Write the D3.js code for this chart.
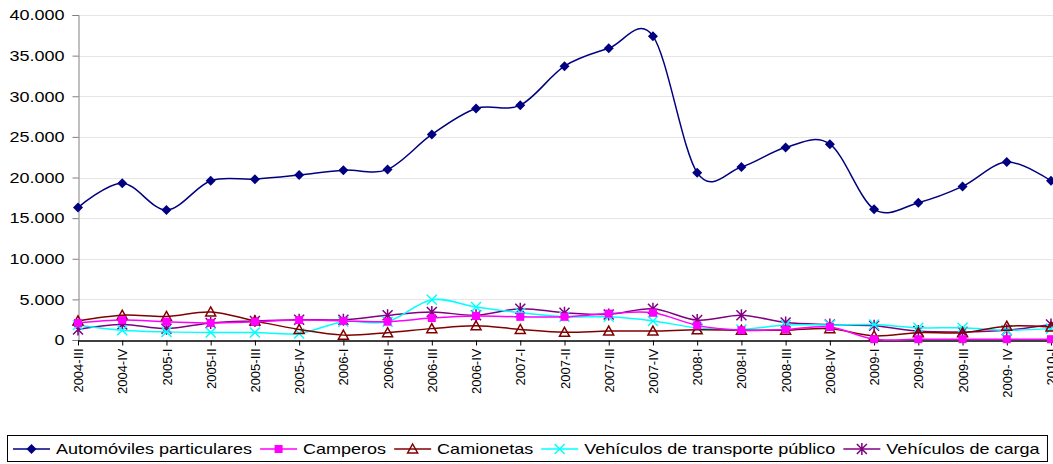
<!DOCTYPE html>
<html>
<head>
<meta charset="utf-8">
<script src="https://cdn.jsdelivr.net/npm/d3@7"></script>
<style>
  body { margin: 0; background: #fff; }
  svg { display: block; font-family: "Liberation Sans", Arial, sans-serif; }
</style>
</head>
<body>
<svg id="chart" width="1053" height="464"></svg>
<script>
// quarters on the x axis
var categories = ["2004-III", "2004-IV", "2005-I", "2005-II", "2005-III", "2005-IV",
  "2006-I", "2006-II", "2006-III", "2006-IV", "2007-I", "2007-II", "2007-III", "2007-IV",
  "2008-I", "2008-II", "2008-III", "2008-IV", "2009-I", "2009-II", "2009-III", "2009- IV", "2010-I"];

// series values
var automoviles = [16300, 19300, 16000, 19600, 19800, 20300, 20900, 21000, 25300, 28500, 28900,
  33700, 35900, 37400, 20600, 21300, 23700, 24100, 16100, 16900, 18900, 21900, 19600];
var camperos = [2100, 2450, 2250, 2100, 2250, 2450, 2350, 2250, 2700, 2950, 2850,
  2850, 3250, 3350, 1800, 1200, 1300, 1600, 100, 100, 100, 100, 100];
var camionetas = [2350, 3050, 2900, 3450, 2350, 1300, 600, 900, 1400, 1750, 1300,
  950, 1100, 1100, 1250, 1200, 1200, 1400, 500, 900, 900, 1700, 1600];
var transporte = [1850, 1200, 1000, 930, 930, 800, 2250, 2250, 4950, 4050, 3350,
  2850, 2850, 2350, 1500, 1300, 1850, 1850, 1900, 1500, 1500, 1200, 1400];
var carga = [1300, 1900, 1400, 2100, 2350, 2500, 2500, 3050, 3450, 3050, 3850,
  3350, 3150, 3850, 2450, 3050, 2150, 1900, 1750, 1100, 1000, 1200, 1900];

var yTicks = [0, 5000, 10000, 15000, 20000, 25000, 30000, 35000, 40000];

var seriesNames = ["Automóviles particulares", "Camperos", "Camionetas",
  "Vehículos de transporte público", "Vehículos de carga"];

var series = [
  {name: seriesNames[0], values: automoviles, color: "#000080", marker: "diamond"},
  {name: seriesNames[1], values: camperos, color: "#FF00FF", marker: "square"},
  {name: seriesNames[2], values: camionetas, color: "#800000", marker: "triangle"},
  {name: seriesNames[3], values: transporte, color: "#00FFFF", marker: "cross"},
  {name: seriesNames[4], values: carga, color: "#800080", marker: "star"}
];

var svg = d3.select("#chart");

var x0 = 78;   // y axis position
var x1 = 1051; // last category
var yTop = 15;
var yBottom = 340;
var stretch = 1.2; // the original text is drawn wider than plain Arial

var locale = d3.formatLocale({decimal: ",", thousands: ".", grouping: [3], currency: ["$", ""]});
var fmt = locale.format(",d");

var x = d3.scalePoint().domain(categories).range([x0, x1]);
var y = d3.scaleLinear().domain([0, 40000]).range([yBottom, yTop]);

function widen(sel) {
  sel.each(function() {
    var w = this.getComputedTextLength();
    d3.select(this)
      .attr("textLength", w * stretch)
      .attr("lengthAdjust", "spacingAndGlyphs");
  });
}

// gridlines
svg.append("g")
  .selectAll("line")
  .data(yTicks.slice(1))
  .enter()
  .append("line")
  .attr("x1", x0)
  .attr("x2", 1053)
  .attr("y1", function(d) { return Math.round(y(d)) + 0.5; })
  .attr("y2", function(d) { return Math.round(y(d)) + 0.5; })
  .attr("stroke", "#e6e6e6")
  .attr("stroke-width", 1);

// y axis
var yAxis = svg.append("g")
  .attr("transform", "translate(" + (x0 + 0.5) + ",0)")
  .call(d3.axisLeft(y).tickValues(yTicks).tickFormat(fmt).tickSize(6).tickPadding(8));
yAxis.select(".domain").attr("stroke", "#808080");
yAxis.selectAll(".tick line").attr("stroke", "#808080");
yAxis.selectAll("text")
  .attr("font-size", 15)
  .attr("fill", "#000")
  .attr("font-family", "Liberation Sans, Arial, sans-serif")
  .call(widen);

// x axis
var xAxis = svg.append("g")
  .attr("transform", "translate(0," + (yBottom + 0.5) + ")")
  .call(d3.axisBottom(x).tickSize(5).tickSizeOuter(0));
xAxis.select(".domain").attr("stroke", "#000").attr("stroke-width", 1.5);
xAxis.selectAll(".tick line").attr("stroke", "#000");
xAxis.selectAll("text")
  .attr("font-size", 13)
  .attr("fill", "#000")
  .attr("font-family", "Liberation Sans, Arial, sans-serif")
  .attr("transform", "rotate(-90)")
  .attr("text-anchor", "end")
  .attr("x", -8)
  .attr("y", 0)
  .attr("dy", "0.35em");

var line = d3.line()
  .x(function(d, i) { return x(categories[i]); })
  .y(function(d) { return y(d); })
  .curve(d3.curveCardinal.tension(0));

// draw a marker at (cx, cy)
function drawMarker(g, type, cx, cy, color) {
  if (type == "diamond") {
    g.append("path")
      .attr("d", "M" + cx + "," + (cy - 5) + "L" + (cx + 5) + "," + cy + "L" + cx + "," + (cy + 5) + "L" + (cx - 5) + "," + cy + "Z")
      .attr("fill", color);
  } else if (type == "square") {
    g.append("rect")
      .attr("x", cx - 4).attr("y", cy - 4)
      .attr("width", 8).attr("height", 8)
      .attr("fill", color);
  } else if (type == "triangle") {
    g.append("path")
      .attr("d", "M" + cx + "," + (cy - 5) + "L" + (cx + 5) + "," + (cy + 4) + "L" + (cx - 5) + "," + (cy + 4) + "Z")
      .attr("fill", "none")
      .attr("stroke", color)
      .attr("stroke-width", 1.5);
  } else if (type == "cross") {
    g.append("path")
      .attr("d", "M" + (cx - 5) + "," + (cy - 5) + "L" + (cx + 5) + "," + (cy + 5) + "M" + (cx + 5) + "," + (cy - 5) + "L" + (cx - 5) + "," + (cy + 5))
      .attr("stroke", color)
      .attr("stroke-width", 1.5);
  } else if (type == "star") {
    g.append("path")
      .attr("d", "M" + (cx - 5) + "," + (cy - 5) + "L" + (cx + 5) + "," + (cy + 5) + "M" + (cx + 5) + "," + (cy - 5) + "L" + (cx - 5) + "," + (cy + 5) + "M" + cx + "," + (cy - 6) + "L" + cx + "," + (cy + 6))
      .attr("stroke", color)
      .attr("stroke-width", 1.5);
  }
}

// lines and markers, back series first so the big one stays on top
var plot = svg.append("g");
series.slice().reverse().forEach(function(s) {
  var g = plot.append("g");
  g.append("path")
    .datum(s.values)
    .attr("d", line)
    .attr("fill", "none")
    .attr("stroke", s.color)
    .attr("stroke-width", 1.5);
  s.values.forEach(function(v, i) {
    drawMarker(g, s.marker, x(categories[i]), y(v), s.color);
  });
});

// legend
var legend = svg.append("g");
var legendBox = legend.append("rect")
  .attr("x", 7.5).attr("y", 435.5)
  .attr("height", 26)
  .attr("fill", "#fff")
  .attr("stroke", "#000")
  .attr("stroke-width", 1);

var lx = 13;
var ly = 449;
series.forEach(function(s) {
  legend.append("line")
    .attr("x1", lx).attr("x2", lx + 37)
    .attr("y1", ly).attr("y2", ly)
    .attr("stroke", s.color)
    .attr("stroke-width", 1.5);
  drawMarker(legend, s.marker, lx + 18.5, ly, s.color);
  var t = legend.append("text")
    .attr("x", lx + 43)
    .attr("y", ly)
    .attr("dy", "0.35em")
    .attr("font-size", 15)
    .attr("fill", "#000")
    .text(s.name);
  var w = t.node().getComputedTextLength() * stretch;
  t.attr("textLength", w).attr("lengthAdjust", "spacingAndGlyphs");
  lx = lx + 43 + w + 8;
});
legendBox.attr("width", lx - 7.5);
</script>
</body>
</html>
